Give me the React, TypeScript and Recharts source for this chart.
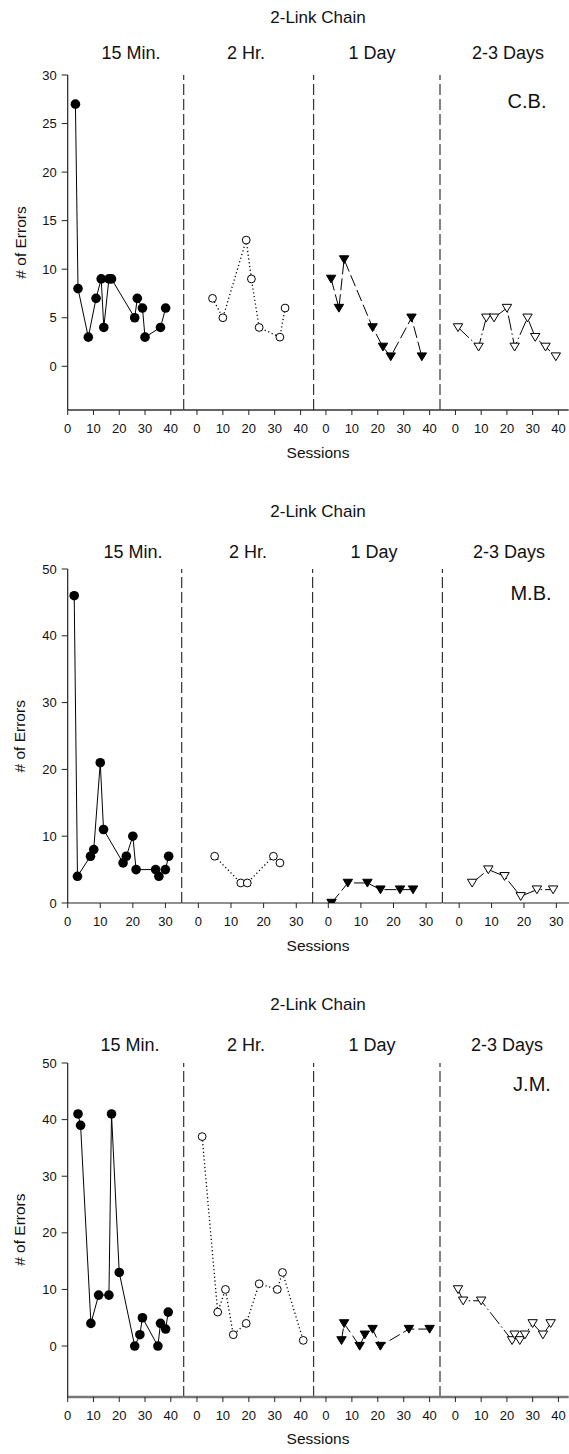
import React from 'react'
import { LineChart, Line, XAxis, YAxis, ReferenceLine } from 'recharts'

type Pair = [number, number]

const chartTitle = '2-Link Chain'
const phaseNames = ['15 Min.', '2 Hr.', '1 Day', '2-3 Days']
const xAxisTitle = 'Sessions'
const yAxisTitle = '# of Errors'

// [session, errors]
const cb15Min: Pair[] = [[3, 27], [4, 8], [8, 3], [11, 7], [13, 9], [14, 4], [16, 9], [17, 9], [26, 5], [27, 7], [29, 6], [30, 3], [36, 4], [38, 6]]
const cb2Hr: Pair[] = [[6, 7], [10, 5], [19, 13], [21, 9], [24, 4], [32, 3], [34, 6]]
const cb1Day: Pair[] = [[2, 9], [5, 6], [7, 11], [18, 4], [22, 2], [25, 1], [33, 5], [37, 1]]
const cb23Days: Pair[] = [[1, 4], [9, 2], [12, 5], [15, 5], [20, 6], [23, 2], [28, 5], [31, 3], [35, 2], [39, 1]]

const mb15Min: Pair[] = [[2, 46], [3, 4], [7, 7], [8, 8], [10, 21], [11, 11], [17, 6], [18, 7], [20, 10], [21, 5], [27, 5], [28, 4], [30, 5], [31, 7]]
const mb2Hr: Pair[] = [[5, 7], [13, 3], [15, 3], [23, 7], [25, 6]]
const mb1Day: Pair[] = [[1, 0], [6, 3], [12, 3], [16, 2], [22, 2], [26, 2]]
const mb23Days: Pair[] = [[4, 3], [9, 5], [14, 4], [19, 1], [24, 2], [29, 2]]

const jm15Min: Pair[] = [[4, 41], [5, 39], [9, 4], [12, 9], [16, 9], [17, 41], [20, 13], [26, 0], [28, 2], [29, 5], [35, 0], [36, 4], [38, 3], [39, 6]]
const jm2Hr: Pair[] = [[2, 37], [8, 6], [11, 10], [14, 2], [19, 4], [24, 11], [31, 10], [33, 13], [41, 1]]
const jm1Day: Pair[] = [[6, 1], [7, 4], [13, 0], [15, 2], [18, 3], [21, 0], [32, 3], [40, 3]]
const jm23Days: Pair[] = [[1, 10], [3, 8], [10, 8], [22, 1], [23, 2], [25, 1], [27, 2], [30, 4], [34, 2], [37, 4]]

const cbYTicks = [0, 5, 10, 15, 20, 25, 30]
const wideYTicks = [0, 10, 20, 30, 40, 50]
const sessionTicks40 = [0, 10, 20, 30, 40]
const sessionTicks30 = [0, 10, 20, 30]

const FONT = "'Liberation Sans', Arial, sans-serif"

type MarkerKind = 'filledCircle' | 'openCircle' | 'filledTriangle' | 'openTriangle'

const phaseStyles: { marker: MarkerKind; dash?: string; width: number }[] = [
  { marker: 'filledCircle', dash: undefined, width: 1 },
  { marker: 'openCircle', dash: '1.2 2.6', width: 1.3 },
  { marker: 'filledTriangle', dash: '12 4', width: 1 },
  { marker: 'openTriangle', dash: '15 3 1.5 3', width: 1 },
]

const renderMarker = (kind: MarkerKind) => (props: any) => {
  const { cx, cy, index } = props
  if (cx == null || cy == null) return <g key={`m-${index}`} />
  if (kind === 'filledCircle') {
    return <circle key={`m-${index}`} cx={cx} cy={cy} r={4.8} fill="#000" />
  }
  if (kind === 'openCircle') {
    return <circle key={`m-${index}`} cx={cx} cy={cy} r={3.9} fill="#fff" stroke="#000" strokeWidth={1} />
  }
  const pts = `${cx - 4.7},${cy - 3.7} ${cx + 4.7},${cy - 3.7} ${cx},${cy + 4.1}`
  return (
    <polygon
      key={`m-${index}`}
      points={pts}
      fill={kind === 'filledTriangle' ? '#000' : '#fff'}
      stroke="#000"
      strokeWidth={1}
    />
  )
}

// one block per subject: four phase charts side by side
const panels = [
  {
    subject: 'C.B.',
    series: [cb15Min, cb2Hr, cb1Day, cb23Days],
    titleY: 17,
    phaseY: 53,
    phaseX: [131, 246, 372, 508],
    initials: [527, 101],
    top: 75,
    bottom: 410,
    yDomain: [-4.5, 30],
    yTicks: cbYTicks,
    xTicks: sessionTicks40,
    bounds: [67.7, 183.7, 313.3, 440.3, 569],
    domains: [[0, 45], [-5, 45], [-5, 44], [-6, 44]],
    axisStroke: '#333',
    axisWidth: 1.5,
  },
  {
    subject: 'M.B.',
    series: [mb15Min, mb2Hr, mb1Day, mb23Days],
    titleY: 511,
    phaseY: 552,
    phaseX: [133, 248, 374, 509],
    initials: [531, 593],
    top: 569.3,
    bottom: 903.3,
    yDomain: [0, 50],
    yTicks: wideYTicks,
    xTicks: sessionTicks30,
    bounds: [67.7, 181.7, 312.3, 442.7, 569],
    domains: [[0, 35], [-5, 35], [-5, 35], [-5, 34]],
    axisStroke: '#222',
    axisWidth: 1.2,
  },
  {
    subject: 'J.M.',
    series: [jm15Min, jm2Hr, jm1Day, jm23Days],
    titleY: 1004,
    phaseY: 1045,
    phaseX: [130, 246, 372, 507],
    initials: [532, 1084],
    top: 1062.7,
    bottom: 1396.7,
    yDomain: [-9, 50],
    yTicks: wideYTicks,
    xTicks: sessionTicks40,
    bounds: [67.7, 183.7, 313.3, 440.3, 569],
    domains: [[0, 45], [-5, 45], [-5, 44], [-6, 44]],
    axisStroke: '#777',
    axisWidth: 2.6,
  },
]

const PAD = 3
const TOP_PAD = 12
const AXIS_H = 34

type PhaseChartProps = {
  pairs: Pair[]
  phase: number
  left: number
  right: number
  domain: number[]
  top: number
  bottom: number
  yDomain: number[]
  yTicks: number[]
  xTicks: number[]
  axisStroke: string
  axisWidth: number
}

const PhaseChart = ({ pairs, phase, left, right, domain, top, bottom, yDomain, yTicks, xTicks, axisStroke, axisWidth }: PhaseChartProps) => {
  const withY = phase === 0
  const chartLeft = withY ? 0 : left - PAD
  const width = right - chartLeft + PAD
  const rows = pairs.map(([x, y]) => ({ x, y }))
  const st = phaseStyles[phase]
  const tickStyle = { fontSize: 13, fill: '#111', fontFamily: FONT }

  return (
    <div style={{ position: 'absolute', left: chartLeft, top: top - TOP_PAD }}>
      <LineChart
        width={width}
        height={bottom - top + TOP_PAD + AXIS_H}
        data={rows}
        margin={{ top: TOP_PAD, right: PAD, bottom: 0, left: withY ? 0 : PAD }}
      >
        <XAxis
          dataKey="x"
          type="number"
          domain={domain as [number, number]}
          ticks={xTicks}
          interval={0}
          allowDataOverflow
          height={AXIS_H}
          tickSize={5}
          tickMargin={9}
          tick={tickStyle}
          axisLine={{ stroke: axisStroke, strokeWidth: axisWidth }}
          tickLine={{ stroke: '#222', strokeWidth: 1 }}
        />
        {withY ? (
          <YAxis
            type="number"
            domain={yDomain as [number, number]}
            ticks={yTicks}
            interval={0}
            allowDataOverflow
            width={left}
            tickSize={6}
            tickMargin={5}
            tick={tickStyle}
            axisLine={{ stroke: '#222', strokeWidth: 1.2 }}
            tickLine={{ stroke: '#222', strokeWidth: 1 }}
          />
        ) : (
          <YAxis hide type="number" domain={yDomain as [number, number]} allowDataOverflow />
        )}
        {phase < 3 && (
          <ReferenceLine x={domain[1]} stroke="#333" strokeWidth={1.2} strokeDasharray="11 4" />
        )}
        <Line
          dataKey="y"
          stroke="#000"
          strokeWidth={st.width}
          strokeDasharray={st.dash}
          dot={renderMarker(st.marker)}
          activeDot={false}
          isAnimationActive={false}
        />
      </LineChart>
    </div>
  )
}

export default function App() {
  return (
    <div
      style={{
        position: 'absolute',
        left: 0,
        top: 0,
        width: 569,
        height: 1454,
        overflow: 'hidden',
        background: '#fff',
        fontFamily: FONT,
      }}
    >
      {panels.map((p) =>
        p.series.map((pairs, i) => (
          <PhaseChart
            key={`${p.subject}-${i}`}
            pairs={pairs}
            phase={i}
            left={p.bounds[i]}
            right={p.bounds[i + 1]}
            domain={p.domains[i]}
            top={p.top}
            bottom={p.bottom}
            yDomain={p.yDomain}
            yTicks={p.yTicks}
            xTicks={p.xTicks}
            axisStroke={p.axisStroke}
            axisWidth={p.axisWidth}
          />
        ))
      )}
      <svg
        width={569}
        height={1454}
        style={{ position: 'absolute', left: 0, top: 0, pointerEvents: 'none' }}
        fontFamily={FONT}
        fill="#111"
      >
        {panels.map((p) => {
          const midY = (p.top + p.bottom) / 2
          return (
            <g key={p.subject}>
              <text x={318} y={p.titleY} fontSize={17} textAnchor="middle" dominantBaseline="central">
                {chartTitle}
              </text>
              {phaseNames.map((name, i) => (
                <text key={name} x={p.phaseX[i]} y={p.phaseY} fontSize={18} textAnchor="middle" dominantBaseline="central">
                  {name}
                </text>
              ))}
              <text x={p.initials[0]} y={p.initials[1]} fontSize={20} textAnchor="middle" dominantBaseline="central">
                {p.subject}
              </text>
              <text
                x={20}
                y={midY}
                fontSize={15.5}
                textAnchor="middle"
                dominantBaseline="central"
                transform={`rotate(-90 20 ${midY})`}
              >
                {yAxisTitle}
              </text>
              <text x={318} y={p.bottom + 42} fontSize={15.5} textAnchor="middle" dominantBaseline="central">
                {xAxisTitle}
              </text>
            </g>
          )
        })}
      </svg>
    </div>
  )
}
